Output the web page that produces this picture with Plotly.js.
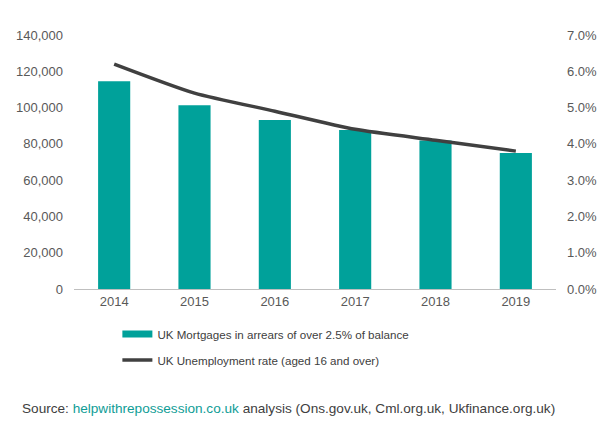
<!DOCTYPE html>
<html>
<head>
<meta charset="utf-8">
<script src="https://cdn.plot.ly/plotly-3.0.1.min.js"></script>
<style>html,body{margin:0;padding:0;background:#fff;}#chart{width:613px;height:433px;}</style>
</head>
<body>
<div id="chart"></div>
<script>
const years = ["2014", "2015", "2016", "2017", "2018", "2019"];
const arrears = [114500, 101300, 93200, 87600, 81800, 74900];
const unemployment = [6.2, 5.4, 4.9, 4.4, 4.1, 3.8];
const leftTicks = [0, 20000, 40000, 60000, 80000, 100000, 120000, 140000];
const rightTicks = [0, 1, 2, 3, 4, 5, 6, 7];
const barName = "UK Mortgages in arrears of over 2.5% of balance";
const lineName = "UK Unemployment rate (aged 16 and over)";

const textColor = "#595959";
const barColor = "#00a19a";
const font = {family: "Liberation Sans, Arial, sans-serif", size: 13, color: textColor};

const traces = [
  {type: "bar", x: years, y: arrears, name: barName, marker: {color: barColor}, width: 0.4, showlegend: false},
  // legend entry for the bars, drawn as a wide swatch like the original
  {type: "scatter", mode: "lines", x: [null], y: [null], name: barName, legendgroup: "g1",
   line: {color: barColor, width: 7}, hoverinfo: "skip"},
  {type: "scatter", mode: "lines", x: years, y: unemployment, yaxis: "y2", name: lineName, legendgroup: "g2",
   line: {color: "#404040", width: 3.5, shape: "spline", smoothing: 0.6}}
];

const layout = {
  width: 613, height: 433,
  margin: {l: 74, r: 57, t: 35, b: 144},
  paper_bgcolor: "#fff", plot_bgcolor: "#fff",
  font: font,
  showlegend: true,
  legend: {x: 0.09, y: -0.12, xanchor: "left", yanchor: "top", orientation: "v",
           font: {family: font.family, size: 11.6, color: "#404040"}, itemwidth: 30, tracegroupgap: 7},
  xaxis: {type: "category", showgrid: false, zeroline: false, showline: true, linecolor: "#bfbfbf",
          linewidth: 1, ticks: "", tickfont: font},
  yaxis: {range: [0, 140000], tickvals: leftTicks, ticktext: leftTicks.map(v => v.toLocaleString("en-US")),
          showgrid: false, zeroline: false, showline: false, ticks: "", tickfont: font, ticklabelstandoff: 10},
  yaxis2: {range: [0, 7], overlaying: "y", side: "right", tickvals: rightTicks,
           ticktext: rightTicks.map(v => v.toFixed(1) + "%"), showgrid: false, zeroline: false,
           showline: false, ticks: "", tickfont: font, ticklabelstandoff: 10},
  annotations: [{
    xref: "paper", yref: "paper", x: -0.112, y: -0.472, xanchor: "left", yanchor: "middle", showarrow: false,
    text: 'Source: <span style="color:#0f9d96">helpwithrepossession.co.uk</span> analysis (Ons.gov.uk, Cml.org.uk, Ukfinance.org.uk)',
    font: {family: font.family, size: 13.6, color: "#404040"}
  }]
};

Plotly.newPlot("chart", traces, layout, {displayModeBar: false, staticPlot: true});
</script>
</body>
</html>
